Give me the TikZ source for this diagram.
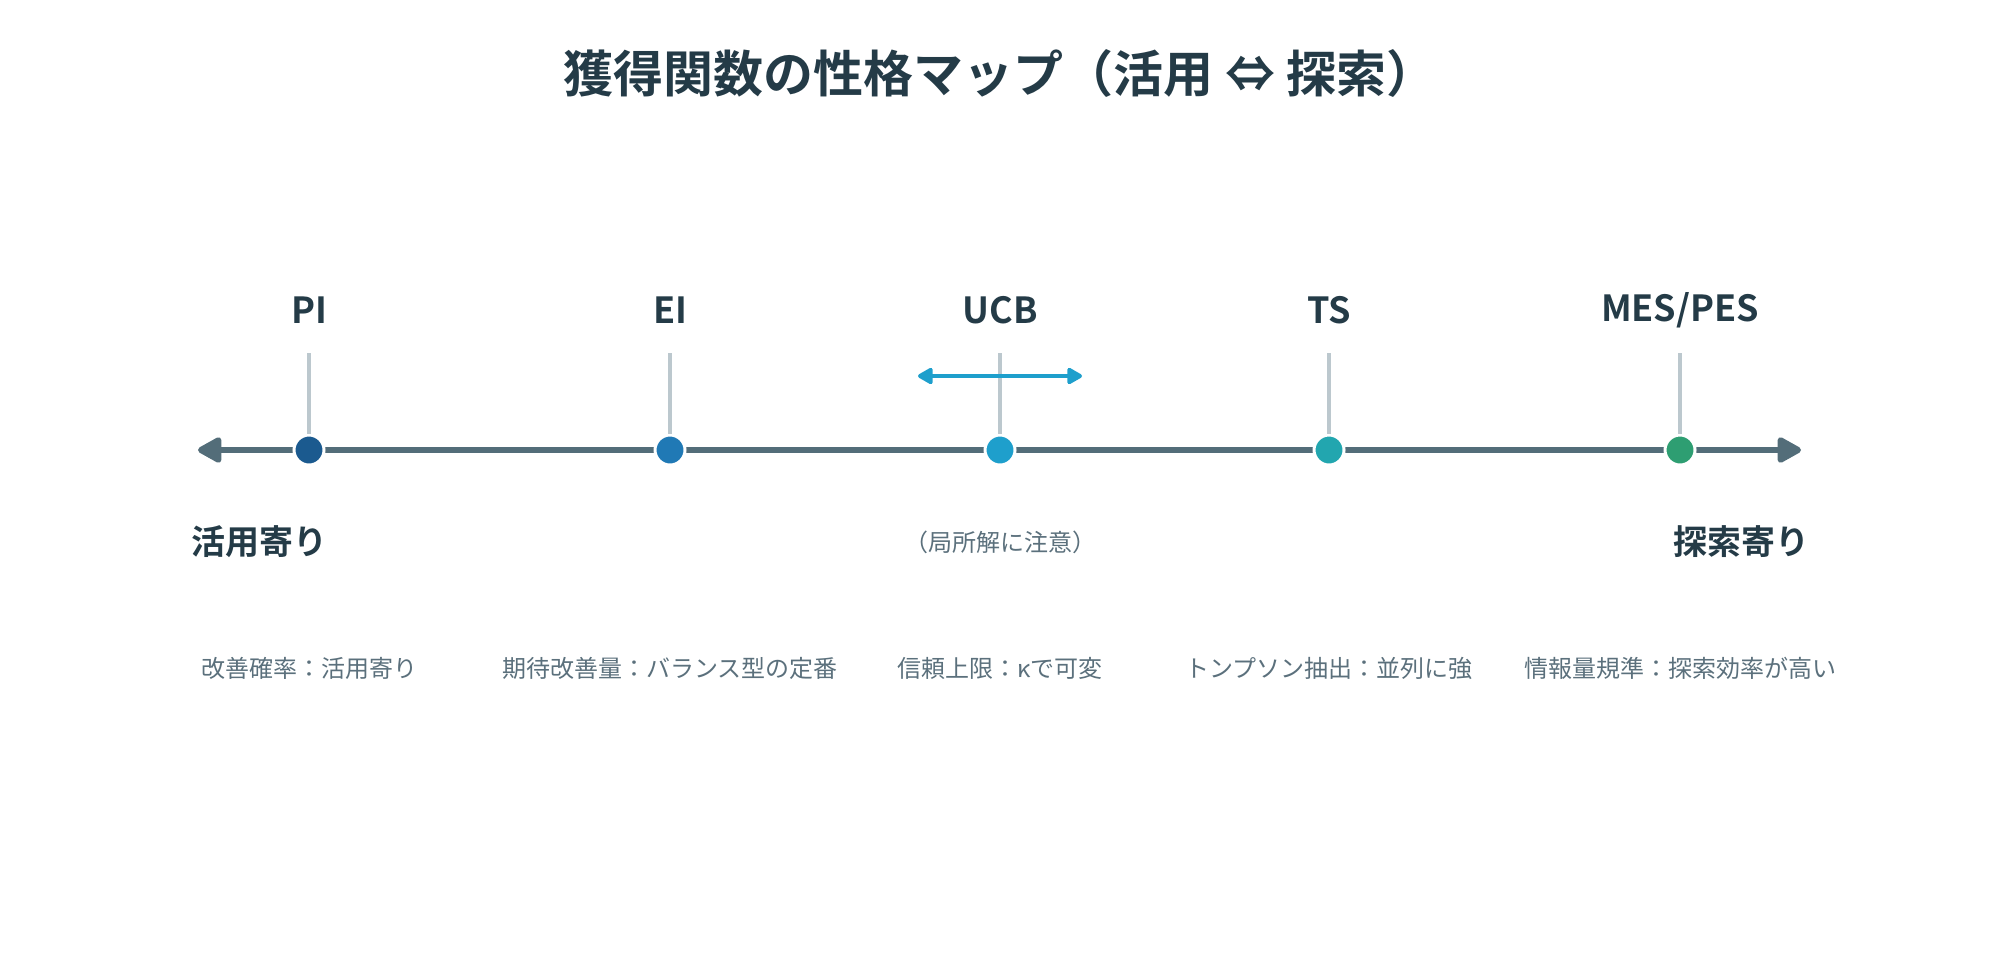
\documentclass[tikz,border=0pt]{standalone}
\usepackage{fontspec}
\setmainfont{Noto Sans CJK JP}[BoldFont={Noto Sans CJK JP Bold}]
\usetikzlibrary{arrows.meta}
\definecolor{ink}{HTML}{243B47}
\definecolor{axisgray}{HTML}{536D79}
\definecolor{stemgray}{HTML}{BCC8CE}
\definecolor{notegray}{HTML}{5B707C}
\definecolor{cPI}{HTML}{1B5A8F}
\definecolor{cEI}{HTML}{2079B5}
\definecolor{cUCB}{HTML}{1E9FCC}
\definecolor{cTS}{HTML}{22A6AF}
\definecolor{cMES}{HTML}{2E9E72}

\begin{document}
\begin{tikzpicture}[x=0.5pt,y=-0.5pt,
  dot/.style={circle,fill=#1,draw=white,line width=1.5pt,minimum size=15pt,inner sep=0pt},
  stem/.style={draw=stemgray,line width=2pt},
  algo/.style={font=\bfseries\fontsize{18pt}{20pt}\selectfont,text=ink,inner sep=0pt},
  side/.style={font=\bfseries\fontsize{17pt}{20pt}\selectfont,text=ink,inner sep=0pt},
  desc/.style={font=\fontsize{12pt}{14pt}\selectfont,text=notegray,inner sep=0pt}]
\useasboundingbox (0,0) rectangle (2000,960);
\node[font=\bfseries\fontsize{25pt}{29pt}\selectfont,text=ink] (title) at (1000,73) {獲得関数の性格マップ（活用 ⇔ 探索）};
% axis
\coordinate (axL) at (198,450);
\coordinate (axR) at (1801,450);
\draw[axisgray,line width=3pt,{Triangle[length=13.5pt,width=14pt,round]}-{Triangle[length=13.5pt,width=14pt,round]}] (axL) -- (axR);
% points on the axis
\node[dot=cPI] (pi) at (309,450) {};
\node[dot=cEI] (ei) at (670,450) {};
\node[dot=cUCB] (ucb) at (1000,450) {};
\node[dot=cTS] (ts) at (1329,450) {};
\node[dot=cMES] (mes) at (1680,450) {};
% stems
\coordinate (piTop) at (309,353);
\coordinate (eiTop) at (670,353);
\coordinate (ucbTop) at (1000,353);
\coordinate (tsTop) at (1329,353);
\coordinate (mesTop) at (1680,353);
\draw[stem] (piTop) -- (pi.north);
\draw[stem] (eiTop) -- (ei.north);
\draw[stem] (ucbTop) -- (ucb.north);
\draw[stem] (tsTop) -- (ts.north);
\draw[stem] (mesTop) -- (mes.north);
% UCB range
\coordinate (ucbL) at (918,376);
\coordinate (ucbR) at (1082,376);
\draw[cUCB,line width=2pt,{Triangle[length=8.5pt,width=9pt,round]}-{Triangle[length=8.5pt,width=9pt,round]}] (ucbL) -- (ucbR);
% names
\node[algo] (piName) at (309,310) {PI};
\node[algo] (eiName) at (670,310) {EI};
\node[algo] (ucbName) at (1000,310) {UCB};
\node[algo] (tsName) at (1329,310) {TS};
\node[algo] (mesName) at (1680,310) {MES/PES};
% ends
\node[side,anchor=west] (exploit) at (191,542) {活用寄り};
\node[side,anchor=east] (explore) at (1810,542) {探索寄り};
\node[desc] (ucbNote) at (1000,542) {（局所解に注意）};
% descriptions
\node[desc] (piDesc) at (309,668) {改善確率：活用寄り};
\node[desc] (eiDesc) at (670,668) {期待改善量：バランス型の定番};
\node[desc] (ucbDesc) at (1000,668) {信頼上限：κで可変};
\node[desc] (tsDesc) at (1329,668) {トンプソン抽出：並列に強};
\node[desc] (mesDesc) at (1680,668) {情報量規準：探索効率が高い};
\end{tikzpicture}
\end{document}
